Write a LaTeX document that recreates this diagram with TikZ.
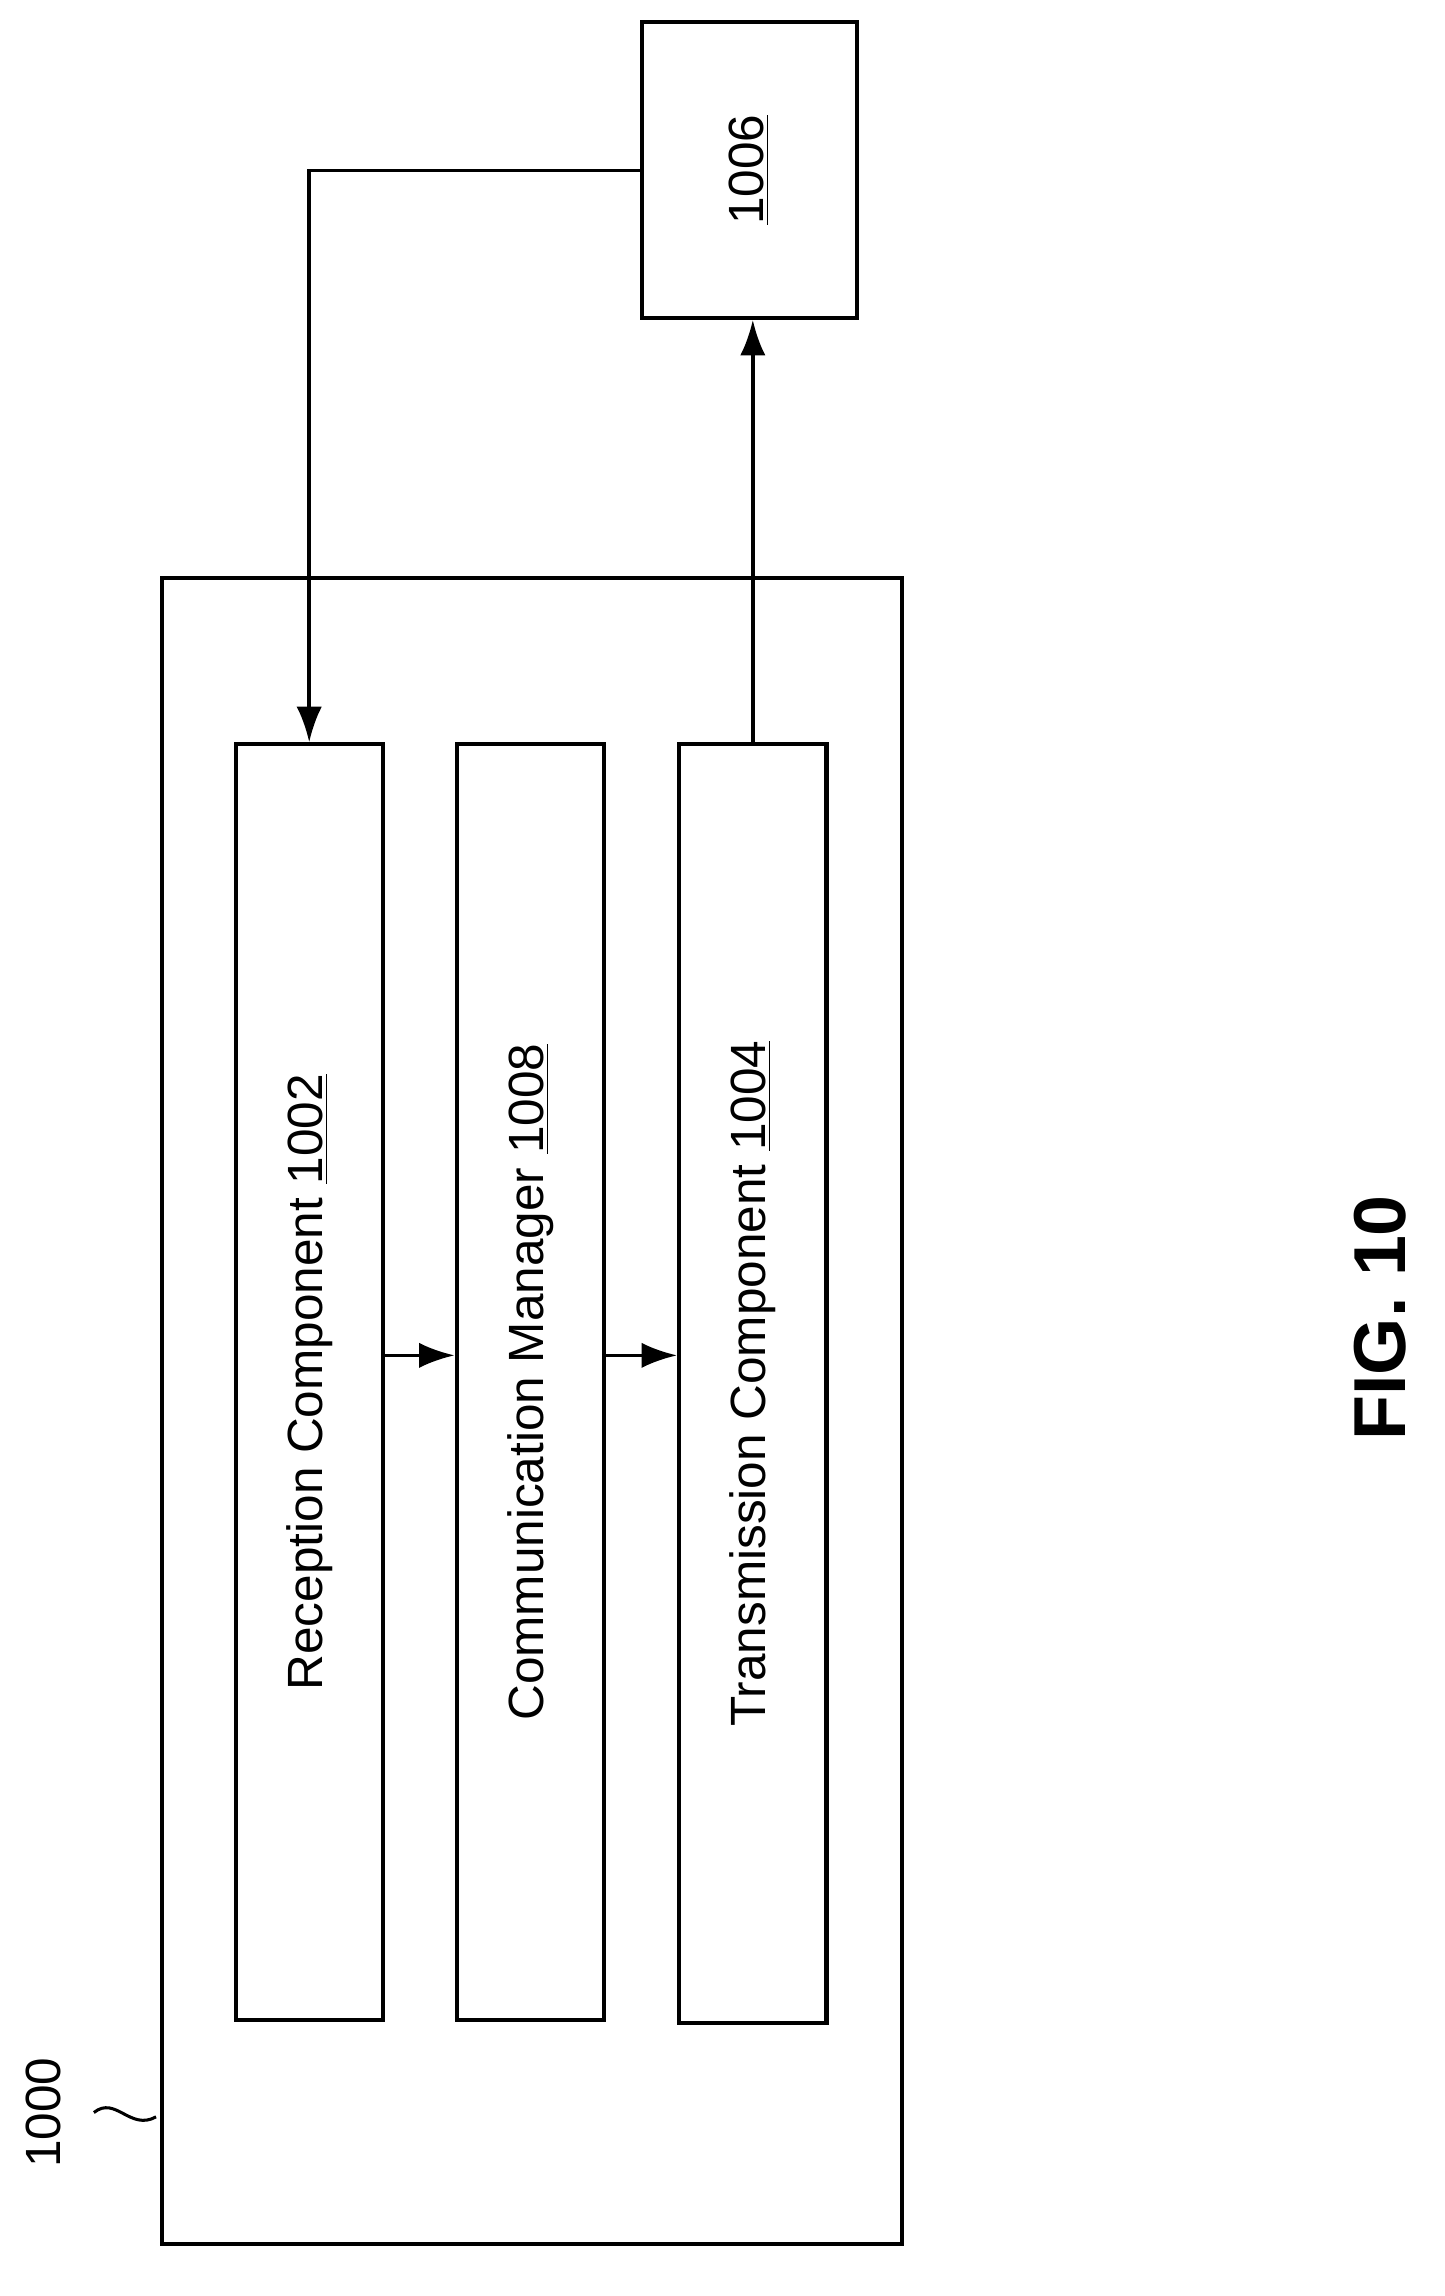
\documentclass[tikz,border=0pt]{standalone}
\usepackage{fontspec}
\setmainfont{Liberation Sans}
\usetikzlibrary{positioning,arrows.meta}
\tikzset{
  block/.style={draw=black,line width=1.6pt,inner sep=0pt},
  link/.style={line width=1.4pt,-{Latex[length=14pt,width=10pt]}},
  label/.style={rotate=90,font=\fontsize{19.5}{22}\selectfont}
}
\begin{document}
\begin{tikzpicture}[x=0.02cm,y=-0.02cm]
  \useasboundingbox (0,0) rectangle (1000,1589);
  % outer device
  \draw[block] (112,400) rectangle (624,1553);
  \node[block,minimum width=2.04cm,minimum height=17.66cm] (rx) at (214,956.5) {};
  \node[block,minimum width=2.04cm,minimum height=17.66cm] (cm) at (367,956.5) {};
  \node[block,minimum width=2.04cm,minimum height=17.7cm] (tx) at (521,957.5) {};
  \node[block,minimum width=2.98cm,minimum height=4.1cm] (dev) at (518.5,117.5) {};
  \node[label] at (rx) {Reception Component \underline{1002}};
  \node[label] at (cm) {Communication Manager \underline{1008}};
  \node[label] at (tx) {Transmission Component \underline{1004}};
  \node[label] at (dev) {\underline{1006}};
  % connectors
  \draw[link] (dev.west |- 0,118) -| (rx.north);
  \draw[link] (tx.north) -- (tx.north |- dev.south);
  \draw[link] (rx.east |- 0,938) -- (cm.west |- 0,938);
  \draw[link] (cm.east |- 0,938) -- (tx.west |- 0,938);
  % reference numeral
  \node[label] (num) at (30,1462) {1000};
  \draw[line width=1.2pt] (65,1462) .. controls (80,1450) and (90,1475) .. (108,1465);
  \node[rotate=90,font=\bfseries\fontsize{29}{32}\selectfont] (fig) at (955,912) {FIG. 10};
\end{tikzpicture}
\end{document}
